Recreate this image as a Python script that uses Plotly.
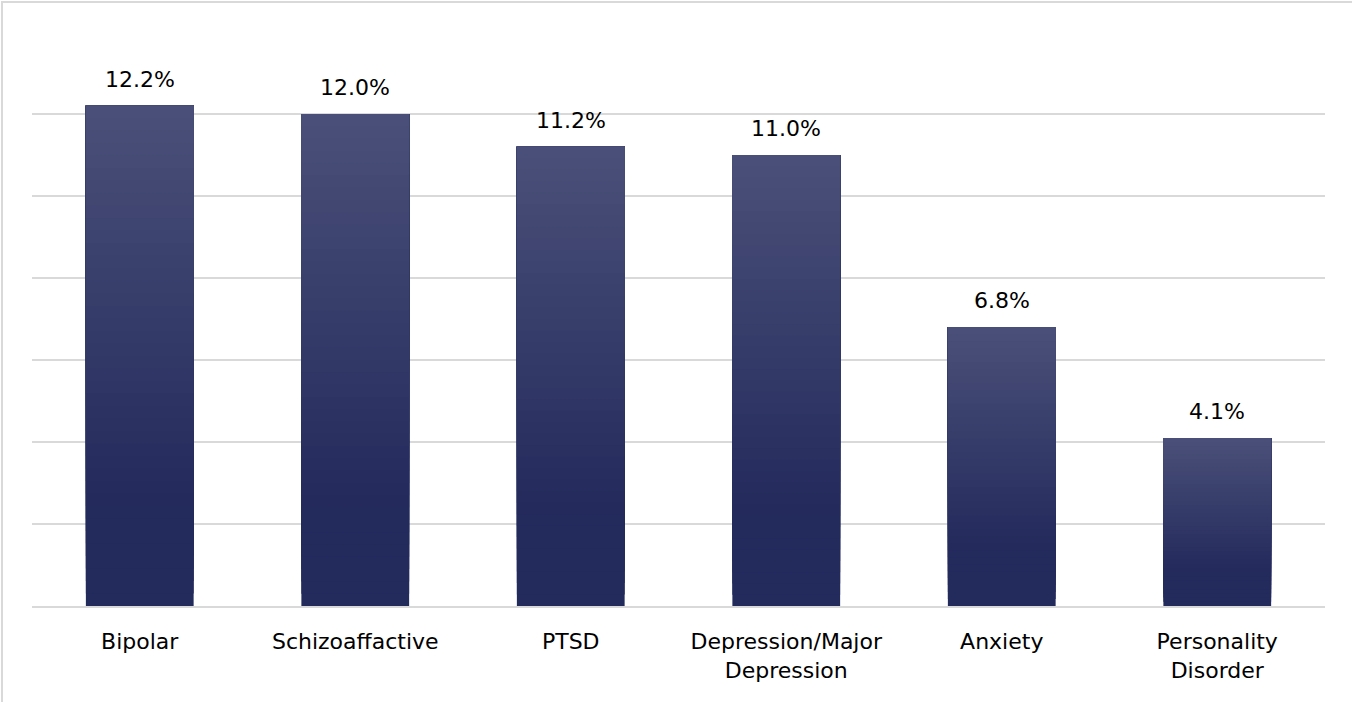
import plotly.graph_objects as go

categories = ["Bipolar", "Schizoaffactive", "PTSD", "Depression/Major<br>Depression", "Anxiety", "Personality<br>Disorder"]
values = [12.2, 12.0, 11.2, 11.0, 6.8, 4.1]
labels = ["12.2%", "12.0%", "11.2%", "11.0%", "6.8%", "4.1%"]

FONT = "DejaVu Sans"
TOP = (0x4a, 0x50, 0x78)
BOT = (0x23, 0x2a, 0x5c)
N = 40

fig = go.Figure()
# gradient: each layer spans from its start fraction to the bar top, drawn bottom-up
for k in range(N):
    t = (k + 0.5) / N  # 0 bottom, 1 top
    f = max(0.0, (t - 0.2) / 0.8)
    c = tuple(round(BOT[i] + (TOP[i] - BOT[i]) * f) for i in range(3))
    fig.add_trace(go.Bar(
        x=categories,
        y=[v * (1 - k / N) for v in values],
        base=[v * k / N for v in values],
        marker=dict(color="rgb(%d,%d,%d)" % c, line=dict(width=0)),
        hoverinfo="skip",
        showlegend=False,
    ))

for cat, v, lab in zip(categories, values, labels):
    fig.add_annotation(x=cat, y=v, text=lab, showarrow=False, yanchor="bottom",
                       yshift=12, font=dict(family=FONT, size=22, color="#000000"))

fig.add_shape(type="rect", xref="paper", yref="paper",
              x0=(2 - 32) / 1293, x1=(1400 - 32) / 1293,
              y0=(606 - 760) / 574, y1=(606 - 2) / 574,
              line=dict(color="#d9d9d9", width=2), layer="below")

fig.update_layout(
    width=1352, height=702,
    margin=dict(l=32, r=27, t=32, b=96),
    paper_bgcolor="white", plot_bgcolor="white",
    barmode="overlay", bargap=0.5,
    font=dict(family=FONT, size=22, color="#000000"),
    xaxis=dict(showgrid=False, showline=True, linecolor="#d9d9d9", linewidth=2,
               ticks="outside", ticklen=15, tickcolor="rgba(0,0,0,0)",
               tickfont=dict(family=FONT, size=22, color="#000000")),
    yaxis=dict(range=[0, 14], dtick=2, showgrid=True, gridcolor="#d9d9d9", gridwidth=2,
               showticklabels=False, zeroline=False, showline=False),
)

fig.write_html("out.html")
